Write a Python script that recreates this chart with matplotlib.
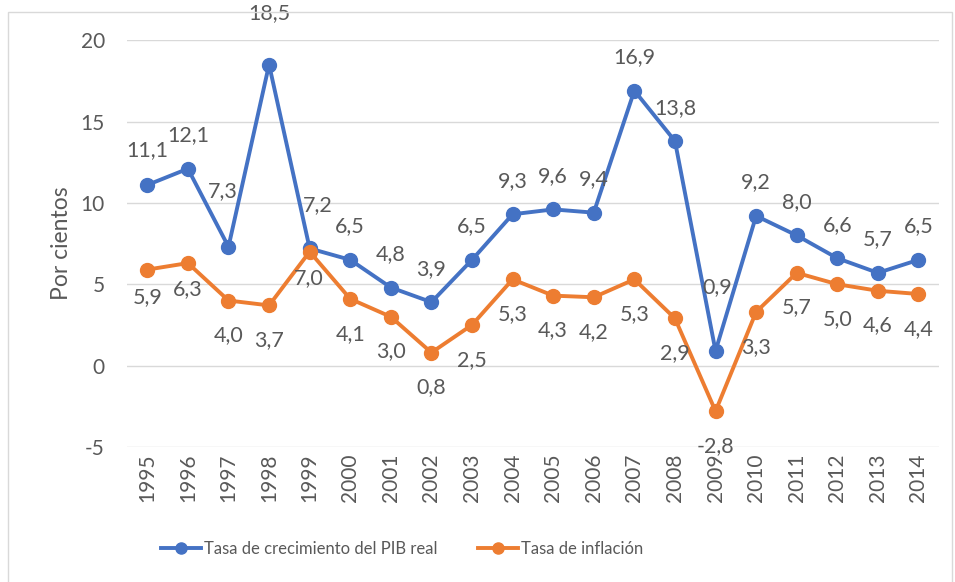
import matplotlib.pyplot as plt
from matplotlib.patches import Rectangle

years = [str(y) for y in range(1995, 2015)]
pib = [11.1, 12.1, 7.3, 18.5, 7.2, 6.5, 4.8, 3.9, 6.5, 9.3,
       9.6, 9.4, 16.9, 13.8, 0.9, 9.2, 8.0, 6.6, 5.7, 6.5]
inflacion = [5.9, 6.3, 4.0, 3.7, 7.0, 4.1, 3.0, 0.8, 2.5, 5.3,
             4.3, 4.2, 5.3, 2.9, -2.8, 3.3, 5.7, 5.0, 4.6, 4.4]

# label offsets in points (dx, dy), tweaked by hand like in the original
pib_off = [(0, 24)] * 20
pib_off[0] = (0, 25)
pib_off[2] = (-4, 40)
pib_off[3] = (0, 37)
pib_off[4] = (6, 31)
pib_off[14] = (1, 46)
inf_off = [(0, -25)] * 20
inf_off[0] = (0, -20)
inf_off[1] = (0, -19)
inf_off[4] = (-1, -19)

plt.rcParams['font.family'] = ['Lato', 'DejaVu Sans']
plt.rcParams['axes.unicode_minus'] = False
gray = '#595959'
blue = '#4472C4'
orange = '#ED7D31'

fig = plt.figure(figsize=(9.55, 5.82), dpi=100)
ax = fig.add_axes([0.133, 0.232, 0.85, 0.699])
x = list(range(len(years)))

ax.plot(x, pib, color=blue, lw=2.8, marker='o', ms=10,
        label='Tasa de crecimiento del PIB real', zorder=3)
ax.plot(x, inflacion, color=orange, lw=2.8, marker='o', ms=10,
        label='Tasa de inflación', zorder=3)

for i in x:
    ax.annotate(f'{pib[i]:.1f}'.replace('.', ','), (i, pib[i]),
                xytext=pib_off[i], textcoords='offset points',
                ha='center', va='center', fontsize=15.5, color=gray)
    ax.annotate(f'{inflacion[i]:.1f}'.replace('.', ','), (i, inflacion[i]),
                xytext=inf_off[i], textcoords='offset points',
                ha='center', va='center', fontsize=15.5, color=gray)

ax.set_xlim(-0.5, len(years) - 0.5)
ax.set_ylim(-5, 20)
ax.set_yticks([-5, 0, 5, 10, 15, 20])
ax.set_xticks(x)
ax.set_xticklabels(years, rotation=90)
ax.tick_params(axis='both', length=0, labelsize=15, colors=gray)
ax.tick_params(axis='y', pad=16)
ax.tick_params(axis='x', pad=5)
ax.grid(axis='y', color='#D9D9D9', lw=1)
ax.set_axisbelow(True)
for s in ax.spines.values():
    s.set_visible(False)
ax.set_ylabel('Por cientos', fontsize=16.5, color=gray, labelpad=6)

fig.legend(loc='center', bbox_to_anchor=(0.421, 0.057), ncol=2, frameon=False,
           fontsize=12, labelcolor=gray, handlelength=2.4, columnspacing=2.4,
           handletextpad=0.2, markerscale=0.8)

fig.patches.append(Rectangle((8 / 955, -0.05), 944 / 955, 1 - 12 / 582 + 0.05,
                             transform=fig.transFigure, fill=False,
                             edgecolor='#D9D9D9', lw=1))

fig.savefig('out.png', dpi=100)
